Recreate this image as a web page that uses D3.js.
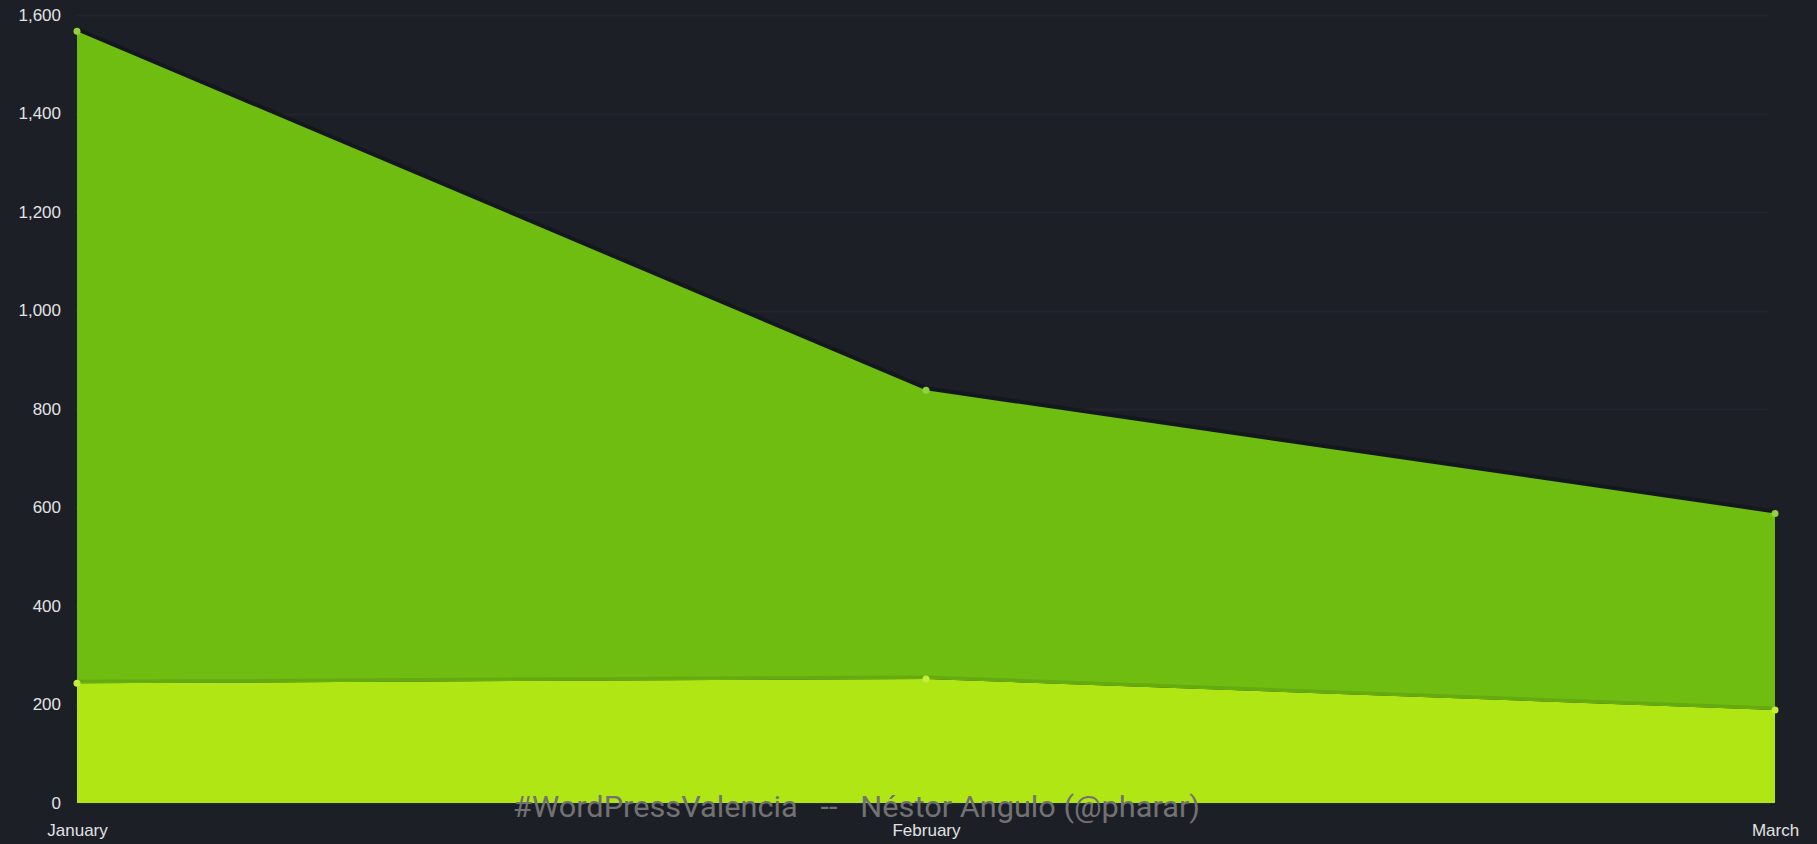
<!DOCTYPE html>
<html>
<head>
<meta charset="utf-8">
<script src="https://cdn.jsdelivr.net/npm/d3@7"></script>
<style>
  html, body { margin: 0; padding: 0; background: #1c1f26; }
  svg { display: block; }
</style>
</head>
<body>
<svg id="chart" width="1817" height="844"></svg>
<script>
const months = ["January", "February", "March"];
const seriesNames = ["Series A", "Series B"];
const seriesA = [243, 252, 189];      // bottom (light green)
const seriesB = [1324, 586, 399];     // stacked on top (green)
const yTicks = [0, 200, 400, 600, 800, 1000, 1200, 1400, 1600];
const watermark = "#WordPressValencia   --   Néstor Angulo (@pharar)";

const colors = ["#b0e614", "#6fbd11"];
const pointColors = ["#c4ee3c", "#93d23a"];

const W = 1817, H = 844;
const svg = d3.select("#chart");
svg.append("rect").attr("width", W).attr("height", H).attr("fill", "#1c1f26");

const x = d3.scalePoint().domain(months).range([77, 1775]);
const y = d3.scaleLinear().domain([0, 1600]).range([803, 15]);

const rows = months.map((m, i) => ({ month: m, "Series A": seriesA[i], "Series B": seriesB[i] }));
const stacked = d3.stack().keys(seriesNames)(rows);

// gridlines
svg.append("g").selectAll("line").data(yTicks).join("line")
  .attr("x1", 75).attr("x2", 1768)
  .attr("y1", d => Math.round(y(d)) + 0.5).attr("y2", d => Math.round(y(d)) + 0.5)
  .attr("stroke", "#21252c").attr("stroke-width", 2);

// y axis
const yAxis = d3.axisLeft(y).tickValues(yTicks).tickSize(0).tickPadding(0).tickFormat(d3.format(","));
const gy = svg.append("g").attr("transform", "translate(61,0)").call(yAxis);
gy.select(".domain").remove();
gy.selectAll("text").attr("fill", "#e2e2e2").attr("font-size", 17)
  .attr("font-family", "'Liberation Sans', Arial, Helvetica, sans-serif");

// x axis
const xAxis = d3.axisBottom(x).tickSize(0).tickPadding(0);
const gx = svg.append("g").attr("transform", "translate(0,824)").call(xAxis);
gx.select(".domain").remove();
gx.selectAll("text").attr("fill", "#e2e2e2").attr("font-size", 17)
  .attr("font-family", "'Liberation Sans', Arial, Helvetica, sans-serif");

// shadow line above top series
const topLine = d3.line().x(d => x(d.data.month)).y(d => y(d[1]));
svg.append("path").datum(stacked[1])
  .attr("d", topLine).attr("fill", "none")
  .attr("stroke", "#0f1218").attr("stroke-opacity", 0.6).attr("stroke-width", 6)
  .attr("transform", "translate(0,-1)");

const area = d3.area().x(d => x(d.data.month)).y0(d => y(d[0])).y1(d => y(d[1]));
svg.append("g").selectAll("path").data(stacked).join("path")
  .attr("d", area).attr("fill", (d, i) => colors[i]);

// darker boundary between layers
svg.append("path").datum(stacked[0])
  .attr("d", topLine).attr("fill", "none")
  .attr("stroke", "#64aa10").attr("stroke-width", 3)
  .attr("transform", "translate(0,-2)");

// points
stacked.forEach((s, i) => {
  svg.append("g").selectAll("circle").data(s).join("circle")
    .attr("cx", d => x(d.data.month)).attr("cy", d => y(d[1]))
    .attr("r", 3.5).attr("fill", pointColors[i]);
});

// watermark
svg.append("text")
  .attr("x", 513).attr("y", 817)
  .attr("font-family", "Roboto, 'Noto Sans', sans-serif")
  .attr("font-size", 30)
  .attr("fill", "#727272")
  .attr("textLength", 687).attr("lengthAdjust", "spacingAndGlyphs")
  .style("white-space", "pre")
  .text(watermark);
</script>
</body>
</html>
